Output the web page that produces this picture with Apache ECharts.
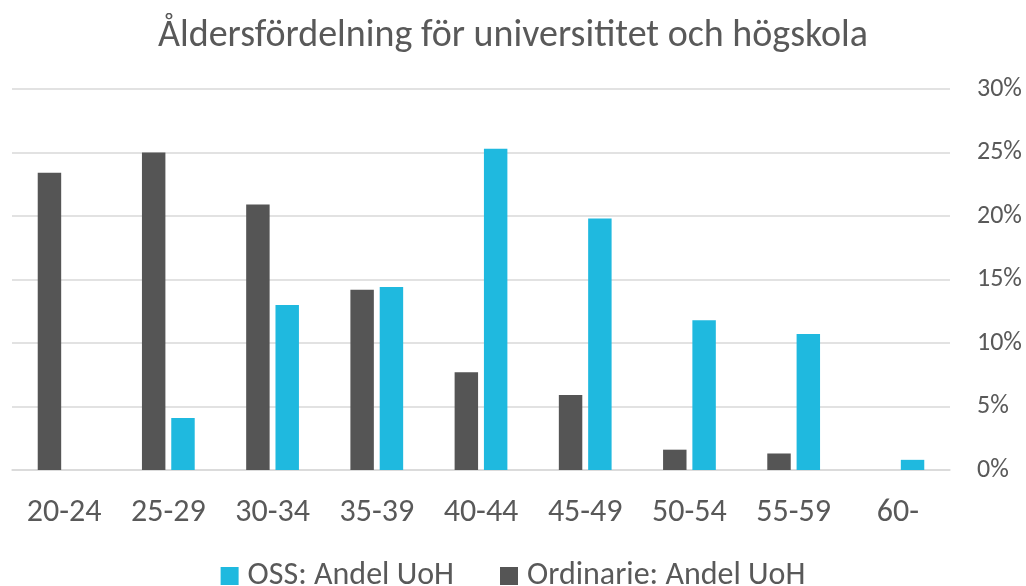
<!DOCTYPE html>
<html>
<head>
<meta charset="utf-8">
<script src="https://cdn.jsdelivr.net/npm/echarts@6/dist/echarts.min.js"></script>
<style>
html,body{margin:0;padding:0;background:#fff;}
#chart{width:1026px;height:586px;}
</style>
</head>
<body>
<div id="chart"></div>
<script>
const titleText = 'Åldersfördelning för universititet och högskola';
const categories = ['20-24','25-29','30-34','35-39','40-44','45-49','50-54','55-59','60-'];
const ordinarieName = 'Ordinarie: Andel UoH';
const ossName = 'OSS: Andel UoH';
const ordinarieValues = [23.4, 25.0, 20.9, 14.2, 7.7, 5.9, 1.6, 1.3, 0];
const ossValues = [0, 4.1, 13.0, 14.4, 25.3, 19.8, 11.8, 10.7, 0.8];
const yTicks = {min: 0, max: 30, interval: 5};

const FONT = "Carlito, 'Liberation Sans Narrow', 'Open Sans', sans-serif";
const TEXT = '#595959';

const chart = echarts.init(document.getElementById('chart'), null, {renderer: 'canvas'});
chart.setOption({
  animation: false,
  backgroundColor: '#ffffff',
  title: {
    text: titleText,
    left: 'center',
    top: 12,
    textStyle: {fontFamily: FONT, fontSize: 38, fontWeight: 'normal', color: TEXT}
  },
  legend: {
    data: [ossName, ordinarieName],
    top: 555,
    left: 'center',
    itemWidth: 18,
    itemHeight: 18,
    itemGap: 46,
    icon: 'rect',
    textStyle: {fontFamily: FONT, fontSize: 32, color: TEXT, padding: [0, 0, 0, 4]}
  },
  grid: {left: 12, right: 76, top: 89, bottom: 116, containLabel: false},
  xAxis: {
    type: 'category',
    data: categories,
    axisLine: {show: true, lineStyle: {color: '#d9d9d9', width: 1.5}},
    axisTick: {show: false},
    axisLabel: {fontFamily: FONT, fontSize: 32, color: TEXT, margin: 27}
  },
  yAxis: {
    type: 'value',
    position: 'right',
    min: yTicks.min,
    max: yTicks.max,
    interval: yTicks.interval,
    axisLine: {show: false},
    axisTick: {show: false},
    splitLine: {lineStyle: {color: '#d9d9d9', width: 1.5}},
    axisLabel: {fontFamily: FONT, fontSize: 26, color: TEXT, margin: 27, formatter: '{value}%'}
  },
  series: [
    {
      name: ordinarieName,
      type: 'bar',
      data: ordinarieValues,
      barWidth: '22.5%',
      barGap: '25%',
      itemStyle: {color: '#555555'}
    },
    {
      name: ossName,
      type: 'bar',
      data: ossValues,
      barWidth: '22.5%',
      barGap: '25%',
      itemStyle: {color: '#1FB9DF'}
    }
  ]
});
</script>
</body>
</html>
